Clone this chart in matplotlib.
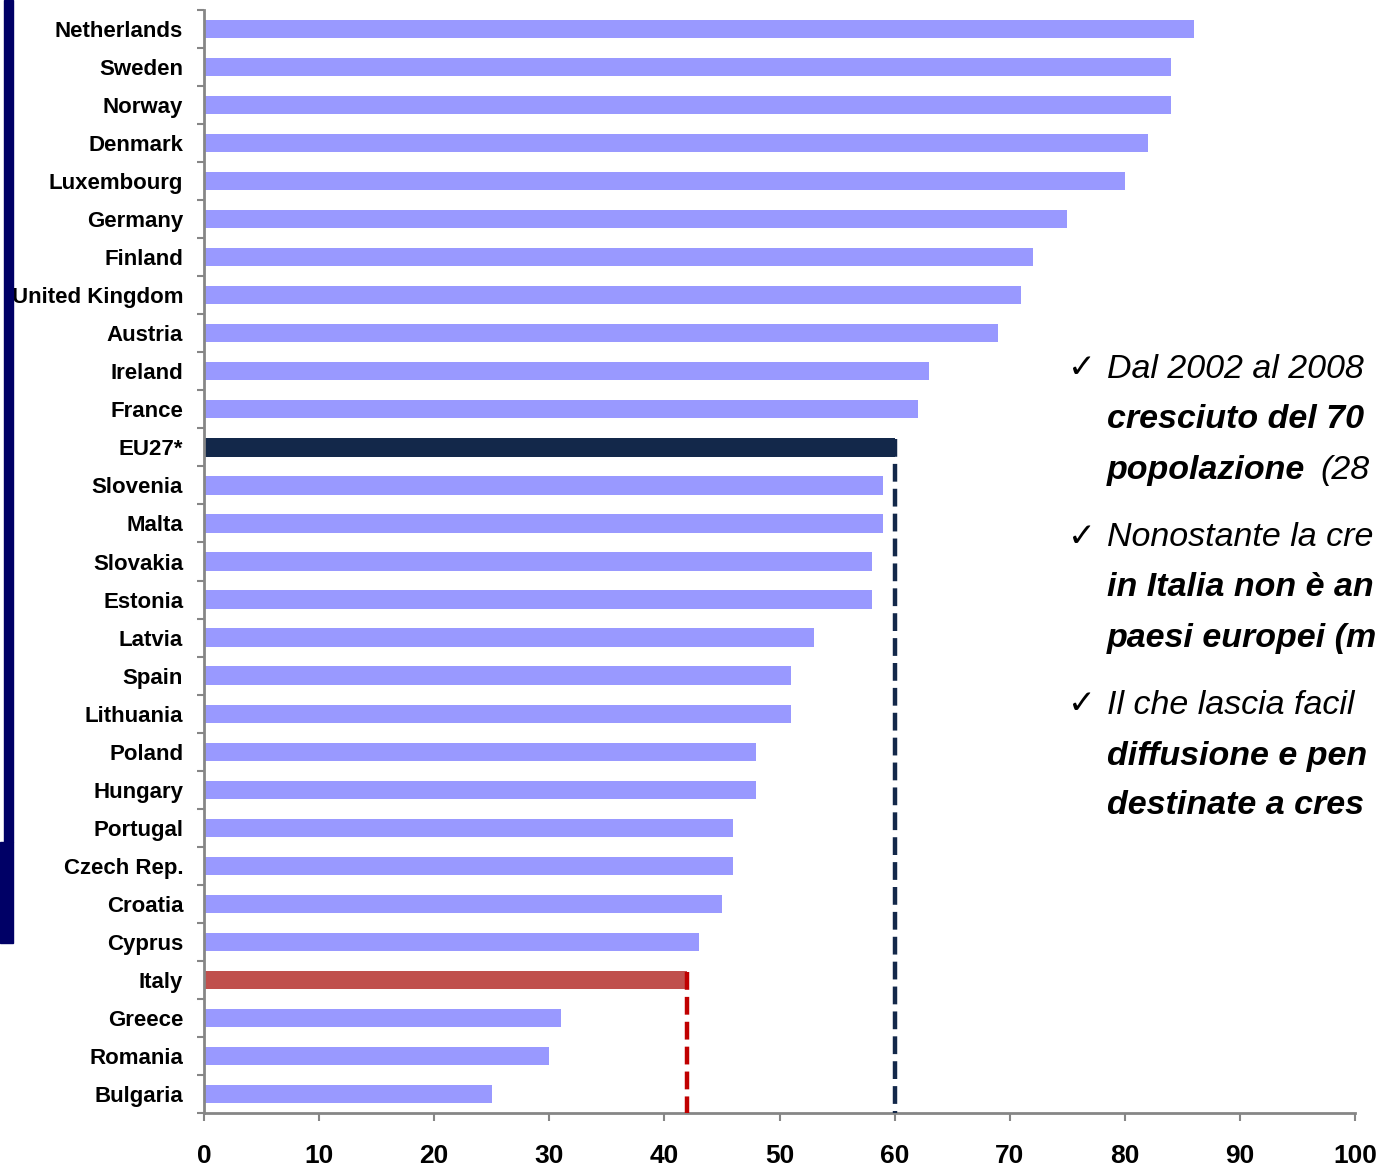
import matplotlib.pyplot as plt
import matplotlib.patches as patches
import numpy as np

plt.rcParams['font.family'] = ['Liberation Sans', 'DejaVu Sans']

countries = ["Netherlands", "Sweden", "Norway", "Denmark", "Luxembourg", "Germany",
             "Finland", "United Kingdom", "Austria", "Ireland", "France", "EU27*",
             "Slovenia", "Malta", "Slovakia", "Estonia", "Latvia", "Spain", "Lithuania",
             "Poland", "Hungary", "Portugal", "Czech Rep.", "Croatia", "Cyprus", "Italy",
             "Greece", "Romania", "Bulgaria"]
values = [86, 84, 84, 82, 80, 75, 72, 71, 69, 63, 62, 60, 59, 59, 58, 58, 53, 51, 51,
          48, 48, 46, 46, 45, 43, 42, 31, 30, 25]
xticks = [0, 10, 20, 30, 40, 50, 60, 70, 80, 90, 100]

bar_col = "#9999FF"
eu_col = "#13284A"
it_col = "#C0504D"

W, H = 1379, 1168
fig = plt.figure(figsize=(W / 100, H / 100), dpi=100)
ax = fig.add_axes([204 / W, 1 - 1113 / H, (1355 - 204) / W, (1113 - 10) / H])

y = np.arange(len(countries))
colors = [eu_col if c == "EU27*" else it_col if c == "Italy" else bar_col for c in countries]
ax.barh(y, values, height=0.48, color=colors, zorder=2)

# dashed reference lines
eu = countries.index("EU27*")
it = countries.index("Italy")
ax.plot([values[eu], values[eu]], [eu - 0.22, len(countries) - 0.5], color=eu_col,
        lw=3.2, linestyle=(0, (4, 1.6)), zorder=3)
ax.plot([values[it], values[it]], [it - 0.22, len(countries) - 0.5], color="#C00000",
        lw=3.2, linestyle=(0, (4, 1.6)), zorder=3)

ax.set_xlim(0, 100)
ax.set_ylim(len(countries) - 0.5, -0.5)

ax.set_yticks(y)
ax.set_yticklabels(countries, fontsize=16, fontweight='bold')
ax.set_yticks(np.arange(len(countries) + 1) - 0.5, minor=True)
ax.tick_params(axis='y', which='major', length=0, pad=15)
ax.tick_params(axis='y', which='minor', length=5, width=1.5, color="#868686")

ax.set_xticks(xticks)
ax.set_xticklabels([str(t) for t in xticks], fontsize=19, fontweight='bold')
ax.tick_params(axis='x', length=6, width=1.5, color="#868686", pad=16)

for s in ["top", "right"]:
    ax.spines[s].set_visible(False)
for s in ["left", "bottom"]:
    ax.spines[s].set_color("#868686")
    ax.spines[s].set_linewidth(2)

# navy strip on the left
fig.patches.append(patches.Rectangle((4 / W, 1 - 842 / H), 9 / W, 842 / H,
                                     transform=fig.transFigure, color="#000066"))
fig.patches.append(patches.Rectangle((0, 1 - 943 / H), 13 / W, (943 - 842) / H,
                                     transform=fig.transFigure, color="#000066"))


def px(xp, yp):
    return xp / W, 1 - yp / H


# bullet text on the right (the slide cuts it at the right edge)
bullets = [
    (370, "Dal 2002 al 2008", 'normal'),
    (420, "cresciuto del 70", 'bold'),
    (470, "popolazione", 'bold'),
    (538, "Nonostante la cre", 'normal'),
    (588, "in Italia non è an", 'bold'),
    (638, "paesi europei (m", 'bold'),
    (706, "Il che lascia facil", 'normal'),
    (756, "diffusione e pen", 'bold'),
    (806, "destinate a cres", 'bold'),
]
for yp, txt, wt in bullets:
    fig.text(*px(1107, yp), txt, fontsize=24.5, style='italic', fontweight=wt,
             va='center', ha='left')
fig.text(*px(1320, 470), "(28", fontsize=24.5, style='italic', va='center', ha='left')
for yp in [368, 536, 704]:
    fig.text(*px(1068, yp), "\u2713", fontsize=24, va='center', ha='left',
             family=['DejaVu Sans'])

fig.savefig("out.png", dpi=100)
